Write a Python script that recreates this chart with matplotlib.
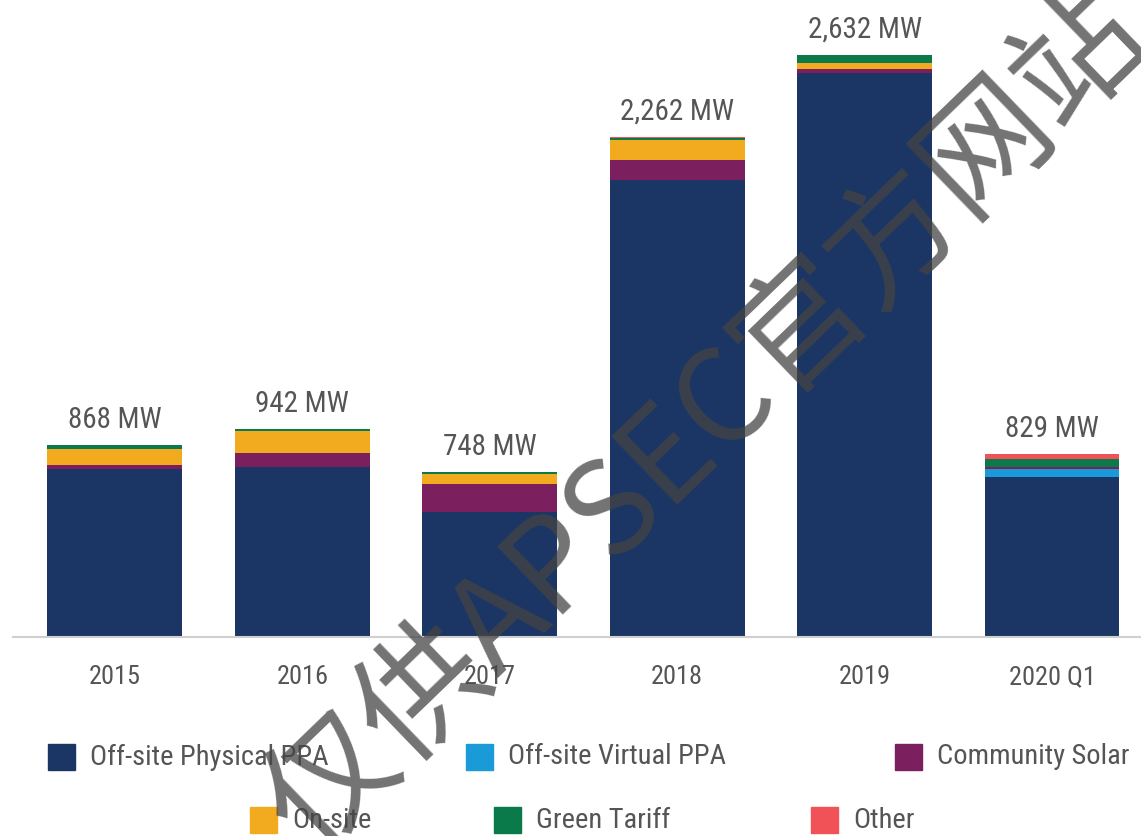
import matplotlib
matplotlib.use("Agg")
import matplotlib.pyplot as plt
import numpy as np
from matplotlib.patches import Rectangle
from matplotlib import font_manager

installed = {f.name for f in font_manager.fontManager.ttflist}
narrow = [f for f in ['Roboto Condensed', 'Liberation Sans Narrow', 'Open Sans Condensed']
          if f in installed]
plt.rcParams['font.family'] = narrow + ['Roboto', 'DejaVu Sans']
plt.rcParams['font.stretch'] = 'condensed'

years = ['2015', '2016', '2017', '2018', '2019', '2020 Q1']
totals = [868, 942, 748, 2262, 2632, 829]

# stack order bottom -> top
series = ['Off-site Physical PPA', 'Off-site Virtual PPA', 'Community Solar',
          'On-site', 'Green Tariff', 'Other']
physical_ppa = [760, 771, 567, 2069, 2551, 722]
virtual_ppa = [0, 0, 0, 0, 0, 36]
community_solar = [18, 63, 127, 90, 18, 13]
on_site = [72, 97, 45, 90, 28, 0]
green_tariff = [18, 11, 9, 9, 35, 36]
other = [0, 0, 0, 4, 0, 22]
values = [physical_ppa, virtual_ppa, community_solar, on_site, green_tariff, other]

colors = ['#1b3664', '#1a9ad6', '#7b1f5e', '#f2aa1f', '#0b7a4b', '#f05257']
text_col = '#555555'
condensed = bool(narrow)
lab_fs = 21 if condensed else 18
tick_fs = 19 if condensed else 17
leg_fs = 20.5 if condensed else 17

fig = plt.figure(figsize=(11.41, 8.36), dpi=100)
ax = fig.add_axes([13 / 1141, 1 - 637 / 836, 1 - 13 / 1141, 637 / 836])

x = np.arange(len(years))
bottom = np.zeros(len(years))
for name, vals, col in zip(series, values, colors):
    ax.bar(x, vals, width=0.72, bottom=bottom, color=col, label=name)
    bottom += np.array(vals)

for xi, tot in zip(x, totals):
    ax.annotate(f'{tot:,} MW', (xi, tot), xytext=(0, 8), textcoords='offset points',
                ha='center', va='bottom', fontsize=lab_fs, color=text_col)

ax.set_xlim(-0.544, 5.475)
ax.set_ylim(0, 2881)
ax.set_xticks(x)
ax.set_xticklabels(years, fontsize=tick_fs, color=text_col)
ax.tick_params(axis='x', length=0, pad=20)
ax.set_yticks([])
for s in ['top', 'right', 'left']:
    ax.spines[s].set_visible(False)
ax.spines['bottom'].set_color('#d0d0d0')
ax.spines['bottom'].set_linewidth(1.5)

# legend, two centred rows
W, H = 1141, 836
legend_pos = [(48, 757), (466, 757), (895, 757), (250, 820), (494, 820), (811, 820)]
for (px, py), name, col in zip(legend_pos, series, colors):
    fig.patches.append(Rectangle((px / W, 1 - (py + 13) / H), 27 / W, 26 / H,
                                 transform=fig.transFigure, color=col))
    fig.text((px + 42) / W, 1 - py / H, name, fontsize=leg_fs, color=text_col,
             va='center', ha='left')

# watermark
fig.text(800 / W, 1 - 332 / H, '仅供APSEC官方网站浏览', rotation=44,
         fontsize=93, color='#444444', alpha=0.75, ha='center', va='center',
         family=['Noto Sans CJK SC', 'DejaVu Sans'], fontweight='light',
         rotation_mode='anchor')

fig.savefig('out.png', dpi=100)
